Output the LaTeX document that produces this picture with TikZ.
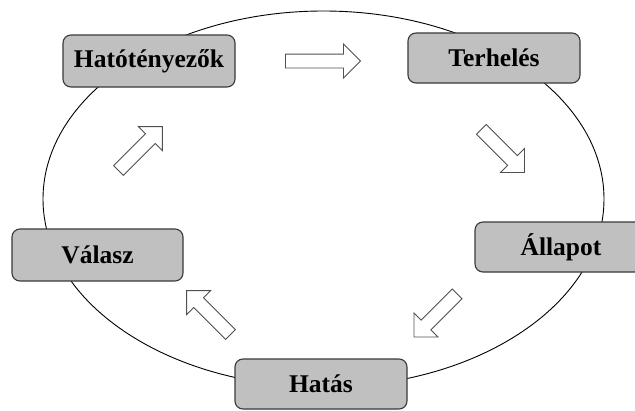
\documentclass[tikz,border=0pt]{standalone}
\usepackage{fontspec}
\setmainfont{Liberation Serif}
\usetikzlibrary{shapes.arrows,shapes.geometric}
\definecolor{boxfill}{HTML}{C0C0C0}
\definecolor{boxline}{HTML}{3A3A3A}
\definecolor{arrline}{HTML}{505050}
\tikzset{
  stagebox/.style={draw=boxline, line width=1.1pt, fill=boxfill, rounded corners=8pt,
    inner sep=0pt, minimum width=172pt, font=\fontsize{25.5}{30}\selectfont\bfseries},
  blockarrow/.style={single arrow, draw=arrline, line width=0.9pt, fill=white,
    inner xsep=0pt, inner ysep=6.5pt, single arrow head extend=10pt,
    single arrow tip angle=90},
  loopline/.style={draw=black, line width=0.9pt}
}
\begin{document}
\begin{tikzpicture}[x=1pt,y=-1pt]
\useasboundingbox (0,0) rectangle (635,410);
\fill[white] (0,0) rectangle (635,410);
\node[loopline, ellipse, minimum width=561pt, minimum height=376pt, inner sep=0pt] (loop) at (323.5,199) {};
\node[stagebox, minimum height=52pt] (hat) at (149,61) {Hatótényezők};
\node[stagebox, minimum height=50pt] (ter) at (494,58) {Terhelés};
\node[stagebox, minimum height=50pt] (all) at (561,247) {Állapot};
\node[stagebox, minimum height=50pt] (hts) at (321,384) {Hatás};
\node[stagebox, minimum width=171pt, minimum height=52pt] (val) at (97.5,255) {Válasz};
\node[blockarrow, minimum height=75pt] (a1) at (319.5,61) {};
\node[blockarrow, minimum height=61pt, rotate=-45] (a2) at (500.5,148.5) {};
\node[blockarrow, minimum height=61pt, rotate=-135] (a3) at (438,313) {};
\node[blockarrow, minimum height=62pt, rotate=135] (a4) at (211,315) {};
\node[blockarrow, minimum height=62pt, rotate=45] (a5) at (138,151) {};
\end{tikzpicture}
\end{document}
